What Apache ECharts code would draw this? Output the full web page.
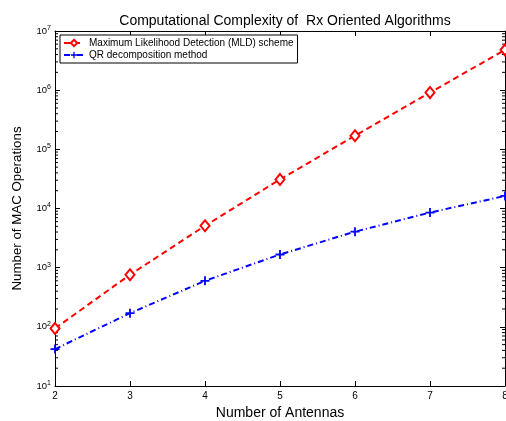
<!DOCTYPE html>
<html>
<head>
<meta charset="utf-8">
<script src="https://cdn.jsdelivr.net/npm/echarts@6/dist/echarts.min.js"></script>
<style>html,body{margin:0;padding:0;background:#fff}#main{width:506px;height:421px}</style>
</head>
<body>
<div id="main"></div>
<script>
var antennas = [2, 3, 4, 5, 6, 7, 8];
var mldOps = [94, 760, 5100, 31000, 170000, 910000, 4800000];
var qrOps = [42, 170, 600, 1670, 4060, 8530, 16300];
var decades = [10, 100, 1000, 10000, 100000, 1000000, 10000000];

// minor ticks 2..9 in each decade
var minorTicks = [];
for (var i = 0; i < decades.length - 1; i++) {
    for (var k = 2; k <= 9; k++) minorTicks.push([decades[i] * k]);
}

function pairs(ys) {
    var res = [];
    for (var i = 0; i < antennas.length; i++) res.push([antennas[i], ys[i]]);
    return res;
}

var font = 'Liberation Sans, Arial, sans-serif';
var plusPath = 'path://M4,0H6V4H10V6H6V10H4V6H0V4H4Z';

function yAxisOf(pos, labels) {
    return {
        type: 'log',
        logBase: 10,
        min: 10,
        max: 10000000,
        position: pos,
        axisLine: {lineStyle: {color: '#000', width: 1}},
        splitLine: {show: false},
        axisTick: {inside: true, length: 5, lineStyle: {color: '#000'}},
        axisLabel: {
            show: labels,
            margin: 4,
            formatter: function (v) {
                return '{b|10}{s|' + Math.round(Math.log10(v)) + '}';
            },
            rich: {
                b: {fontSize: 9.5, color: '#000', fontFamily: font},
                s: {fontSize: 7, color: '#000', fontFamily: font, verticalAlign: 'top', padding: [0, 0, 6, 0]}
            }
        },
        name: labels ? 'Number of MAC Operations' : '',
        nameLocation: 'middle',
        nameGap: 31,
        nameTextStyle: {fontSize: 13.3, color: '#000', fontFamily: font}
    };
}

function xAxisOf(pos, labels) {
    return {
        type: 'value',
        min: 2,
        max: 8,
        interval: 1,
        position: pos,
        axisLine: {lineStyle: {color: '#000'}},
        splitLine: {show: false},
        axisTick: {inside: true, length: 5, lineStyle: {color: '#000'}},
        axisLabel: {show: labels, margin: 5, fontSize: 10, color: '#000', fontFamily: font},
        name: labels ? 'Number of Antennas' : '',
        nameLocation: 'middle',
        nameGap: 20,
        nameTextStyle: {fontSize: 14, color: '#000', fontFamily: font}
    };
}

var chart = echarts.init(document.getElementById('main'));
chart.setOption({
    animation: false,
    backgroundColor: '#fff',
    title: {
        text: 'Computational Complexity of  Rx Oriented Algorithms',
        left: 280,
        textAlign: 'center',
        top: 9,
        textStyle: {fontSize: 14, fontWeight: 'normal', color: '#000', fontFamily: font}
    },
    grid: {left: 55, right: 1, top: 31, bottom: 35, outerBoundsMode: 'none'},
    legend: {
        orient: 'vertical',
        left: 60,
        top: 35,
        backgroundColor: '#fff',
        borderColor: '#000',
        borderWidth: 1,
        padding: [3, 4, 3, 3],
        itemGap: 2,
        itemWidth: 20,
        itemHeight: 8,
        textStyle: {fontSize: 10, color: '#000', fontFamily: font},
        data: ['Maximum Likelihood Detection (MLD) scheme', 'QR decomposition method']
    },
    xAxis: [xAxisOf('bottom', true), xAxisOf('top', false)],
    yAxis: [yAxisOf('left', true), yAxisOf('right', false)],
    series: [{
        name: 'Maximum Likelihood Detection (MLD) scheme',
        type: 'line',
        data: pairs(mldOps),
        symbol: 'diamond',
        symbolSize: [9, 11],
        lineStyle: {color: '#ff0000', width: 2, type: [6, 4]},
        itemStyle: {color: '#fff', borderColor: '#ff0000', borderWidth: 2},
        z: 3
    }, {
        name: 'QR decomposition method',
        type: 'line',
        data: pairs(qrOps),
        symbol: plusPath,
        symbolSize: 9,
        lineStyle: {color: '#0000ff', width: 2, type: [6, 3, 1, 3]},
        itemStyle: {color: '#0000ff'},
        z: 3
    }, {
        // log minor ticks on both vertical sides
        type: 'custom',
        silent: true,
        clip: false,
        data: minorTicks,
        encode: {y: 0},
        renderItem: function (params, api) {
            var l = api.coord([2, api.value(0)]);
            var r = api.coord([8, api.value(0)]);
            var st = {stroke: '#000', lineWidth: 1};
            return {
                type: 'group',
                children: [
                    {type: 'line', shape: {x1: l[0], y1: l[1], x2: l[0] + 3, y2: l[1]}, style: st},
                    {type: 'line', shape: {x1: r[0], y1: r[1], x2: r[0] - 3, y2: r[1]}, style: st}
                ]
            };
        },
        z: 1
    }]
});
</script>
</body>
</html>
